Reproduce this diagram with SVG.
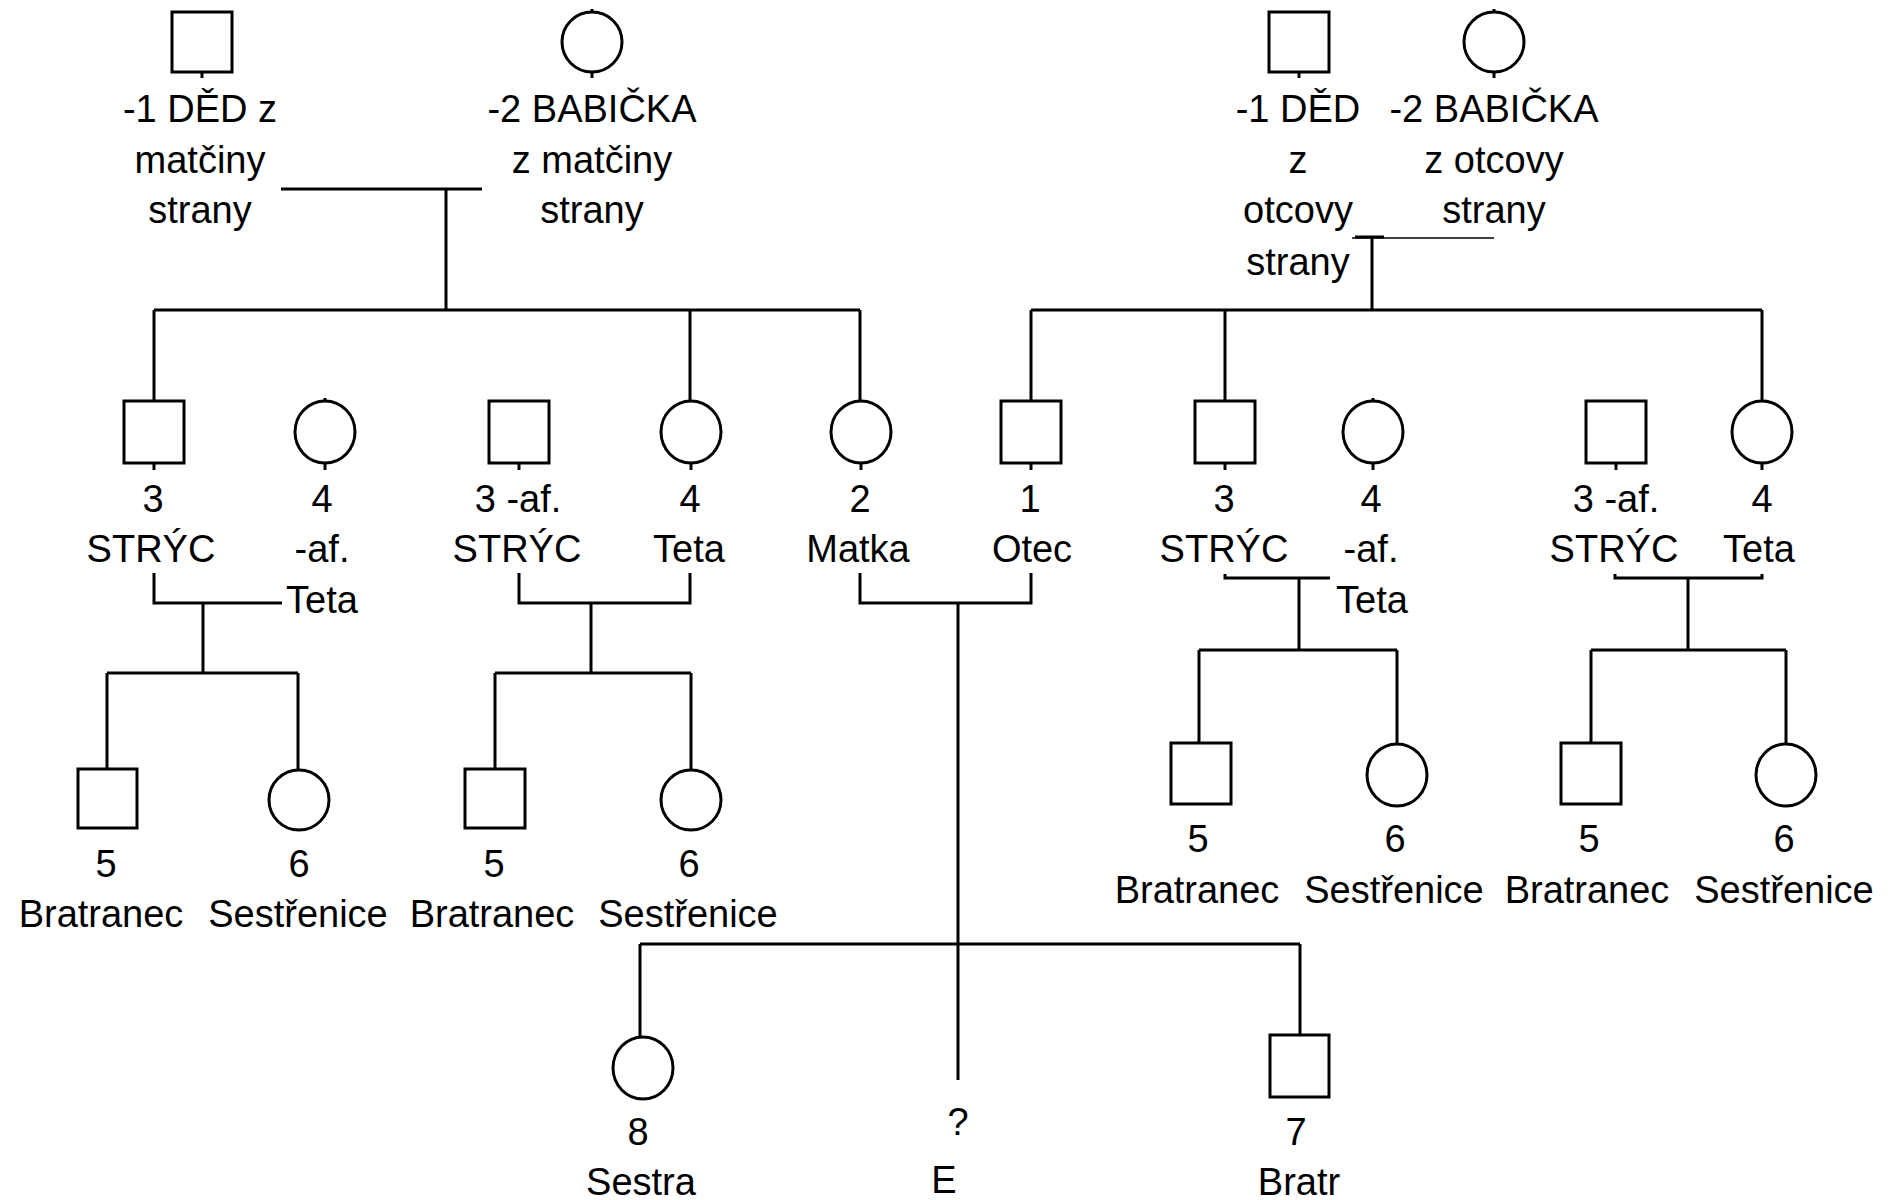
<svg xmlns="http://www.w3.org/2000/svg" width="1894" height="1200" viewBox="0 0 1894 1200">
<style>
.sh{fill:#fff;stroke:#000;stroke-width:3}
.tk{fill:none;stroke:#000;stroke-width:3}
.ln{fill:none;stroke:#000;stroke-width:3}
.thin{fill:none;stroke:#000;stroke-width:1.5}
.t{font-family:"Liberation Sans",Arial,sans-serif;font-size:38px;fill:#000;text-anchor:middle}
</style>
<rect width="1894" height="1200" fill="#fff"/>
<g id="connectors">
<path class="ln" d="M281 189H482M446 189V310"/>
<path class="thin" d="M1352 238H1494"/>
<path class="ln" d="M1355 237H1384M1372 237V310"/>
<path class="ln" d="M154 310H860M154 310V401M690 310V402M860 310V402"/>
<path class="ln" d="M1031 310H1762M1031 310V401M1225 310V401M1762 310V402"/>
<path class="ln" d="M154 573V603H282M203 603V673M107 673H298M107 673V769M298 673V770"/>
<path class="ln" d="M519 573V603H690V573M591 603V673M495 673H691M495 673V769M691 673V770"/>
<path class="ln" d="M860 573V603H1031V573M958 603V1080M640 944H1300M640 944V1037M1300 944V1035"/>
<path class="ln" d="M1225 574V578H1330M1299 578V650M1199 650H1397M1199 650V743M1397 650V744"/>
<path class="ln" d="M1615 574V578H1762V574M1688 578V650M1591 650H1786M1591 650V743M1786 650V744"/>
</g>
<g id="ded-matka">
<rect class="sh" x="172" y="12" width="60" height="60"/>
<path class="tk" d="M202 72V78"/>
<text class="t" x="200" y="122">-1 DĚD z</text>
<text class="t" x="200" y="173">matčiny</text>
<text class="t" x="200" y="223">strany</text>
</g>
<g id="babicka-matka">
<ellipse class="sh" cx="592" cy="42" rx="30" ry="30"/>
<path class="tk" d="M592 9V12M592 72V78"/>
<text class="t" x="592" y="122">-2 BABIČKA</text>
<text class="t" x="592" y="173">z matčiny</text>
<text class="t" x="592" y="223">strany</text>
</g>
<g id="ded-otec">
<rect class="sh" x="1269" y="12" width="60" height="60"/>
<path class="tk" d="M1299 72V78"/>
<text class="t" x="1298" y="122">-1 DĚD</text>
<text class="t" x="1298" y="173">z</text>
<text class="t" x="1298" y="223">otcovy</text>
<text class="t" x="1298" y="275">strany</text>
</g>
<g id="babicka-otec">
<ellipse class="sh" cx="1494" cy="42" rx="30" ry="30"/>
<path class="tk" d="M1494 9V12M1494 72V78"/>
<text class="t" x="1494" y="122">-2 BABIČKA</text>
<text class="t" x="1494" y="173">z otcovy</text>
<text class="t" x="1494" y="223">strany</text>
</g>
<g id="stryc-l1">
<rect class="sh" x="124" y="401" width="60" height="62"/>
<path class="tk" d="M154 463V470"/>
<text class="t" x="153" y="512">3</text>
<text class="t" x="151" y="562">STRÝC</text>
</g>
<g id="teta-af-l1">
<ellipse class="sh" cx="325" cy="432" rx="30" ry="31"/>
<path class="tk" d="M325 398V401M325 463V470"/>
<text class="t" x="322" y="512">4</text>
<text class="t" x="322" y="562">-af.</text>
<text class="t" x="322" y="613">Teta</text>
</g>
<g id="stryc-af-l2">
<rect class="sh" x="489" y="401" width="60" height="62"/>
<path class="tk" d="M519 463V470"/>
<text class="t" x="518" y="512">3 -af.</text>
<text class="t" x="517" y="562">STRÝC</text>
</g>
<g id="teta-l2">
<ellipse class="sh" cx="691" cy="432" rx="30" ry="31"/>
<path class="tk" d="M691 463V470"/>
<text class="t" x="690" y="512">4</text>
<text class="t" x="689" y="562">Teta</text>
</g>
<g id="matka">
<ellipse class="sh" cx="861" cy="432" rx="30" ry="31"/>
<path class="tk" d="M861 463V470"/>
<text class="t" x="860" y="512">2</text>
<text class="t" x="858" y="562">Matka</text>
</g>
<g id="otec">
<rect class="sh" x="1001" y="401" width="60" height="62"/>
<path class="tk" d="M1031 463V470"/>
<text class="t" x="1030" y="512">1</text>
<text class="t" x="1032" y="562">Otec</text>
</g>
<g id="stryc-r1">
<rect class="sh" x="1195" y="401" width="60" height="62"/>
<path class="tk" d="M1225 463V470"/>
<text class="t" x="1224" y="512">3</text>
<text class="t" x="1224" y="562">STRÝC</text>
</g>
<g id="teta-af-r1">
<ellipse class="sh" cx="1373" cy="432" rx="30" ry="31"/>
<path class="tk" d="M1373 398V401M1373 463V470"/>
<text class="t" x="1371" y="512">4</text>
<text class="t" x="1371" y="562">-af.</text>
<text class="t" x="1372" y="613">Teta</text>
</g>
<g id="stryc-af-r2">
<rect class="sh" x="1586" y="401" width="60" height="62"/>
<path class="tk" d="M1616 463V470"/>
<text class="t" x="1616" y="512">3 -af.</text>
<text class="t" x="1614" y="562">STRÝC</text>
</g>
<g id="teta-r2">
<ellipse class="sh" cx="1762" cy="432" rx="30" ry="31"/>
<path class="tk" d="M1762 463V470"/>
<text class="t" x="1762" y="512">4</text>
<text class="t" x="1759" y="562">Teta</text>
</g>
<g id="bratranec-l1">
<rect class="sh" x="78" y="769" width="59" height="59"/>
<text class="t" x="106" y="877">5</text>
<text class="t" x="101" y="927">Bratranec</text>
</g>
<g id="sestrenice-l1">
<ellipse class="sh" cx="299" cy="800" rx="30" ry="30"/>
<text class="t" x="299" y="877">6</text>
<text class="t" x="298" y="927">Sestřenice</text>
</g>
<g id="bratranec-l2">
<rect class="sh" x="465" y="769" width="60" height="59"/>
<text class="t" x="494" y="877">5</text>
<text class="t" x="492" y="927">Bratranec</text>
</g>
<g id="sestrenice-l2">
<ellipse class="sh" cx="691" cy="800" rx="30" ry="30"/>
<text class="t" x="689" y="877">6</text>
<text class="t" x="688" y="927">Sestřenice</text>
</g>
<g id="bratranec-r1">
<rect class="sh" x="1171" y="743" width="60" height="61"/>
<text class="t" x="1198" y="852">5</text>
<text class="t" x="1197" y="903">Bratranec</text>
</g>
<g id="sestrenice-r1">
<ellipse class="sh" cx="1397" cy="775" rx="30" ry="31"/>
<text class="t" x="1395" y="852">6</text>
<text class="t" x="1394" y="903">Sestřenice</text>
</g>
<g id="bratranec-r2">
<rect class="sh" x="1561" y="743" width="60" height="61"/>
<text class="t" x="1589" y="852">5</text>
<text class="t" x="1587" y="903">Bratranec</text>
</g>
<g id="sestrenice-r2">
<ellipse class="sh" cx="1786" cy="775" rx="30" ry="31"/>
<text class="t" x="1784" y="852">6</text>
<text class="t" x="1784" y="903">Sestřenice</text>
</g>
<g id="sestra">
<ellipse class="sh" cx="643" cy="1068" rx="30" ry="31"/>
<text class="t" x="638" y="1145">8</text>
<text class="t" x="641" y="1195">Sestra</text>
</g>
<g id="ego">
<text class="t" x="958" y="1135">?</text>
<text class="t" x="944" y="1193">E</text>
</g>
<g id="bratr">
<rect class="sh" x="1270" y="1035" width="59" height="62"/>
<text class="t" x="1296" y="1145">7</text>
<text class="t" x="1299" y="1195">Bratr</text>
</g>
</svg>
